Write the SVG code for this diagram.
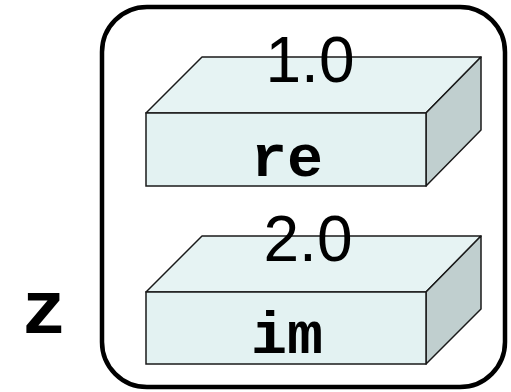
<svg xmlns="http://www.w3.org/2000/svg" width="511" height="392" viewBox="0 0 511 392">
<style>
.frame{fill:#fff;stroke:#000;stroke-width:4.5}
.top{fill:#e6f3f3;stroke:#1a1a1a;stroke-width:1.5;stroke-linejoin:round}
.front{fill:#e3f2f2;stroke:#1a1a1a;stroke-width:1.5}
.side{fill:#c0cfcf;stroke:#1a1a1a;stroke-width:1.5;stroke-linejoin:round}
.val{font-family:"Liberation Sans",Arial,sans-serif;font-size:64px;fill:#000;text-anchor:middle}
.name{font-family:"Liberation Mono","Courier New",monospace;font-weight:bold;font-size:60px;fill:#000;text-anchor:middle}
.var{font-family:"Liberation Mono","Courier New",monospace;font-weight:bold;font-size:76px;fill:#000;text-anchor:middle}
</style>
<g id="z-label"><text class="var" x="44" y="333">z</text></g>
<g id="frame"><rect class="frame" x="102" y="7" width="403" height="380" rx="45" ry="45"/></g>
<g id="re">
<polygon class="top" points="146,113 202,57 481,57 426,113"/>
<polygon class="side" points="426,113 481,57 481,130 426,186"/>
<rect class="front" x="146" y="113" width="280" height="73"/>
<text class="val" x="310" y="82">1.0</text>
<text class="name" x="287" y="176">re</text>
</g>
<g id="im">
<polygon class="top" points="146,292 202,236 481,236 426,292"/>
<polygon class="side" points="426,292 481,236 481,309 426,364"/>
<rect class="front" x="146" y="292" width="280" height="72"/>
<text class="val" x="308" y="261">2.0</text>
<text class="name" x="287" y="353">im</text>
</g>
<g id="connectors"></g>
</svg>
